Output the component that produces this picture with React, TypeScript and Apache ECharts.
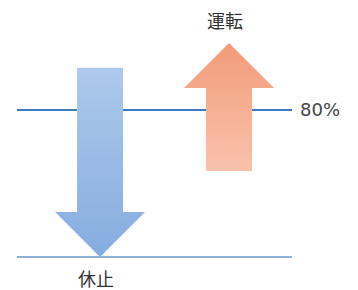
import React, { useEffect, useRef } from "react";
import * as echarts from "echarts";

const arrowNames = ["休止", "運転"];
const arrowX = [30.2, 77.1];
const arrowFrom = [103, 46.8];
const arrowTo = [0, 116.5];
const levelValues = [80, 0];
const levelLabels = ["80%", ""];
const levelSpan = [0, 100];

const arrowGradients = [
  ["#adc9eb", "#86acdf"],
  ["#f29b79", "#f9c2ad"],
];
const levelColors = ["#3b7dbf", "#8eafd6"];

const HEAD_LEN = 45;
const SHAFT_HALF = 23;
const HEAD_HALF = 45;

export default function App() {
  const ref = useRef<HTMLDivElement>(null);
  useEffect(() => {
    if (!ref.current) return;
    const chart = echarts.init(ref.current, undefined, { renderer: "svg" });
    const arrowData = arrowX.map((x, i) => [x, arrowFrom[i], arrowTo[i]]);
    const levelData = levelValues.map((v) => [levelSpan[0], levelSpan[1], v]);
    chart.setOption({
      animation: false,
      grid: { left: 17, right: 66, top: 10, bottom: 33 },
      xAxis: { type: "value", min: 0, max: 100, show: false },
      yAxis: { type: "value", min: 0, max: 134.4, show: false },
      series: [
        {
          type: "custom",
          silent: true,
          z: 1,
          data: levelData,
          renderItem: (params: any, api: any) => {
            const i = params.dataIndex;
            const a = api.coord([api.value(0), api.value(2)]);
            const b = api.coord([api.value(1), api.value(2)]);
            const ly = a[1];
            // gaps where arrows cover the line (arrows are drawn on top)
            const gaps: number[][] = [];
            arrowX.forEach((ax, k) => {
              const p0 = api.coord([ax, arrowFrom[k]]);
              const p1 = api.coord([ax, arrowTo[k]]);
              const cx = p0[0];
              const y0 = p0[1];
              const y1 = p1[1];
              const dir = y1 > y0 ? 1 : -1;
              const yb = y1 - dir * HEAD_LEN;
              const lo = Math.min(y0, y1);
              const hi = Math.max(y0, y1);
              if (ly <= lo + 1 || ly >= hi - 1) return;
              const inHead = dir > 0 ? ly > yb : ly < yb;
              const half = inHead ? (HEAD_HALF * Math.abs(y1 - ly)) / HEAD_LEN : SHAFT_HALF;
              gaps.push([cx - half, cx + half]);
            });
            gaps.sort((p, q) => p[0] - q[0]);
            const segs: any[] = [];
            let start = a[0];
            gaps.forEach((g) => {
              if (g[0] > start) {
                segs.push({
                  type: "line",
                  shape: { x1: start, y1: ly, x2: g[0], y2: ly },
                  style: { stroke: levelColors[i], lineWidth: 2 },
                });
              }
              start = Math.max(start, g[1]);
            });
            if (b[0] > start) {
              segs.push({
                type: "line",
                shape: { x1: start, y1: ly, x2: b[0], y2: ly },
                style: { stroke: levelColors[i], lineWidth: 2 },
              });
            }
            return {
              type: "group",
              children: [
                ...segs,
                {
                  type: "text",
                  style: {
                    text: levelLabels[i],
                    x: b[0] + 8,
                    y: ly,
                    align: "left",
                    verticalAlign: "middle",
                    fontSize: 18,
                    fill: "#444",
                    fontFamily: "DejaVu Sans",
                  },
                },
              ],
            };
          },
        },
        {
          type: "custom",
          silent: true,
          z: 5,
          data: arrowData,
          renderItem: (params: any, api: any) => {
            const i = params.dataIndex;
            const x = api.value(0);
            const p0 = api.coord([x, api.value(1)]);
            const p1 = api.coord([x, api.value(2)]);
            const cx = p0[0];
            const y0 = p0[1];
            const y1 = p1[1];
            const dir = y1 > y0 ? 1 : -1;
            const yb = y1 - dir * HEAD_LEN;
            const g = arrowGradients[i];
            const top = Math.min(y0, y1);
            const bottom = Math.max(y0, y1);
            const points = [
              [cx - SHAFT_HALF, y0],
              [cx + SHAFT_HALF, y0],
              [cx + SHAFT_HALF, yb],
              [cx + HEAD_HALF, yb],
              [cx, y1],
              [cx - HEAD_HALF, yb],
              [cx - SHAFT_HALF, yb],
            ];
            const fill = new echarts.graphic.LinearGradient(0, 0, 0, 1, [
              { offset: 0, color: g[0] },
              { offset: 1, color: g[1] },
            ]);
            return {
              type: "group",
              children: [
                {
                  type: "polygon",
                  shape: { points },
                  style: { fill },
                },
                {
                  type: "text",
                  style: {
                    text: arrowNames[i],
                    x: cx - 4,
                    y: dir > 0 ? bottom + 21 : top - 23,
                    align: "center",
                    verticalAlign: "middle",
                    fontSize: 18,
                    lineHeight: 18,
                    fill: "#333",
                    fontFamily: "Noto Sans CJK JP",
                  },
                },
              ],
            };
          },
        },
      ],
    });
    return () => chart.dispose();
  }, []);
  return (
    <div
      ref={ref}
      style={{ position: "absolute", left: 0, top: 0, width: 358, height: 290, background: "#fff" }}
    />
  );
}
